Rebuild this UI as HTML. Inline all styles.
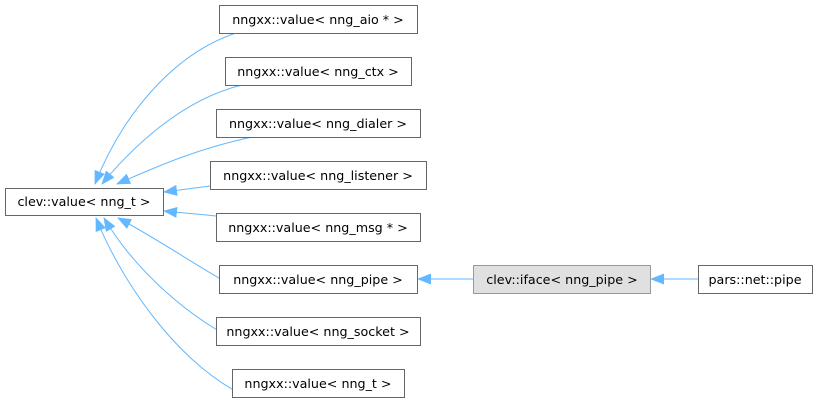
<!DOCTYPE html>
<html><head><style>
body{margin:0;background:#fff;}
svg text{font-family:"DejaVu Sans","Liberation Sans",sans-serif;font-size:12.7px;fill:#000;}
</style></head><body>
<svg width="818" height="402" xmlns="http://www.w3.org/2000/svg">
<defs>
<marker id="a" markerWidth="14" markerHeight="11" refX="13" refY="5.5" orient="auto" markerUnits="userSpaceOnUse">
<path d="M0,0 L14,5.5 L0,11 Z" fill="#63b8ff"/>
</marker>
</defs>
<g fill="none" stroke="#63b8ff" stroke-width="1" marker-end="url(#a)">
<path d="M236,33 C170,55 120,120 95,184"/>
<path d="M242,85 C180,100 130,150 102,184"/>
<path d="M252,137 C200,148 160,165 117,184"/>
<path d="M210,186 C195,188 180,190 164,192"/>
<path d="M216,216 C200,214 182,213 164,211"/>
<path d="M246,293 C210,275 160,240 118,218"/>
<path d="M246,345 C190,320 135,270 104,218"/>
<path d="M248,397 C185,370 125,290 96,218"/>
<path d="M473,279 L418,279"/>
<path d="M698,279 L651,279"/>
</g>
<g stroke="#666" stroke-width="1" fill="#fff">
<rect x="5.5" y="188.5" width="158" height="27"/>
<rect x="219.5" y="5.5" width="198" height="28"/>
<rect x="225.5" y="57.5" width="186" height="28"/>
<rect x="216.5" y="109.5" width="204" height="28"/>
<rect x="210.5" y="161.5" width="216" height="28"/>
<rect x="216.5" y="213.5" width="204" height="28"/>
<rect x="219.5" y="265.5" width="198" height="28"/>
<rect x="216.5" y="317.5" width="204" height="28"/>
<rect x="232.5" y="369.5" width="172" height="28"/>
<rect x="473.5" y="265.5" width="177" height="28" fill="#e0e0e0" stroke="#999"/>
<rect x="698.5" y="265.5" width="114" height="28"/>
</g>
<g text-anchor="middle">
<text x="84" y="206">clev::value&lt; nng_t &gt;</text>
<text x="318" y="24">nngxx::value&lt; nng_aio * &gt;</text>
<text x="318" y="76">nngxx::value&lt; nng_ctx &gt;</text>
<text x="318" y="128">nngxx::value&lt; nng_dialer &gt;</text>
<text x="318" y="180">nngxx::value&lt; nng_listener &gt;</text>
<text x="318" y="232">nngxx::value&lt; nng_msg * &gt;</text>
<text x="318" y="284">nngxx::value&lt; nng_pipe &gt;</text>
<text x="318" y="336">nngxx::value&lt; nng_socket &gt;</text>
<text x="318" y="388">nngxx::value&lt; nng_t &gt;</text>
<text x="562" y="284">clev::iface&lt; nng_pipe &gt;</text>
<text x="755" y="284">pars::net::pipe</text>
</g>
</svg>
</body></html>
